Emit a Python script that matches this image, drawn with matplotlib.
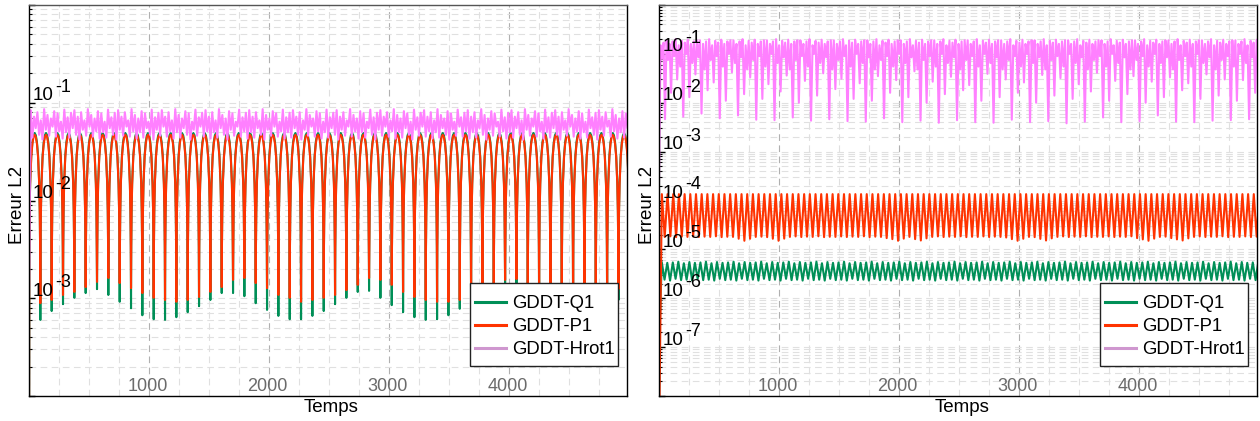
import numpy as np
import matplotlib
matplotlib.use("Agg")
import matplotlib.pyplot as plt
import matplotlib.transforms as mtransforms
from matplotlib.lines import Line2D
from matplotlib.patches import Rectangle
from matplotlib.ticker import LogLocator, MultipleLocator, FixedLocator, NullFormatter

plt.rcParams['font.family'] = ['Liberation Sans', 'DejaVu Sans']

# ---------------- data ----------------
SERIES = ["GDDT-Q1", "GDDT-P1", "GDDT-Hrot1"]
LINE_COLORS = ["#008f57", "#ff3300", "#ff80ff"]
LEGEND_COLORS = ["#008f57", "#ff3300", "#cf97cf"]
X_LABEL = "Temps"
Y_LABEL = "Erreur L2"
T_MAX = 4980
X_TICKS = [1000, 2000, 3000, 4000]
L_DECADES = [-1, -2, -3]
R_DECADES = [-1, -2, -3, -4, -5, -6, -7]
L_YLIM = (1e-4, 1.0)
R_YLIM = (1e-8, 1.0)

# left panel : Q1 / P1 arches (one trough every period)
L_PERIOD = 94.4
L_Q1_START = 1e-5
L_P1_START = 1e-5
L_Q1_PEAK = 0.049
L_P1_PEAK = 0.047
ARCH_PHASE = [0.02, 0.05, 0.1, 0.2, 0.3, 0.4, 0.5]
ARCH_REL = [0.07, 0.16, 0.31, 0.59, 0.81, 0.95, 1.0]
L_Q1_TROUGHS = [6.0e-4, 7.4e-4, 8.7e-4, 1.01e-3, 1.13e-3, 1.24e-3, 1.08e-3, 9.2e-4,
                7.9e-4, 6.7e-4, 6.1e-4, 6.0e-4, 6.4e-4, 7.2e-4, 8.3e-4, 9.6e-4,
                1.13e-3, 1.13e-3, 1.05e-3, 8.9e-4, 7.6e-4, 6.6e-4, 6.1e-4, 6.1e-4,
                6.6e-4, 7.4e-4, 8.7e-4, 1.01e-3, 1.16e-3, 1.19e-3, 1.01e-3, 8.5e-4,
                7.2e-4, 6.4e-4, 6.0e-4, 6.1e-4, 6.7e-4, 7.8e-4, 8.5e-4, 9.8e-4,
                1.10e-3, 1.16e-3, 1.03e-3, 8.7e-4, 7.4e-4, 6.6e-4, 6.1e-4, 6.1e-4,
                6.6e-4, 7.4e-4, 8.5e-4, 9.6e-4]
L_P1_TROUGHS = [8.9e-4, 9.6e-4, 1.08e-3, 1.16e-3, 1.30e-3, 1.47e-3, 1.61e-3, 1.43e-3,
                1.27e-3, 1.13e-3, 1.01e-3, 9.6e-4, 9.2e-4, 9.6e-4, 1.03e-3, 1.16e-3,
                1.30e-3, 1.54e-3, 1.61e-3, 1.43e-3, 1.27e-3, 1.08e-3, 1.01e-3, 9.2e-4,
                9.6e-4, 1.01e-3, 1.08e-3, 1.21e-3, 1.37e-3, 1.61e-3, 1.54e-3, 1.37e-3,
                1.16e-3, 1.03e-3, 9.6e-4, 9.2e-4, 9.2e-4, 9.6e-4, 1.03e-3, 1.16e-3,
                1.30e-3, 1.54e-3, 1.57e-3, 1.40e-3, 1.21e-3, 1.08e-3, 9.8e-4, 9.2e-4,
                9.4e-4, 1.01e-3, 1.10e-3, 1.24e-3]
# left panel : Hrot1 noisy band
L_H_START = 1.1e-3
L_H_STEP = 14
L_H_HIGH = [0.084, 0.072, 0.080, 0.066, 0.086, 0.075, 0.069, 0.082, 0.078, 0.064, 0.085, 0.071, 0.079]
L_H_LOW = [0.050, 0.044, 0.055, 0.047, 0.042, 0.053, 0.046, 0.057, 0.045, 0.051, 0.043]

# right panel : P1
R_P1_PERIOD = 47.4
R_P1_START = 1e-9
R_P1_PEAK = 1.35e-4
R_P1_TROUGHS = [1.8e-5, 1.85e-5, 1.78e-5, 1.82e-5, 1.8e-5, 1.84e-5, 1.79e-5, 1.82e-5, 1.8e-5, 1.85e-5, 1.78e-5, 1.81e-5, 1.8e-5, 1.65e-5, 1.5e-5,
                1.65e-5, 1.8e-5, 1.82e-5, 1.78e-5, 1.65e-5, 1.5e-5, 1.66e-5, 1.8e-5, 1.84e-5, 1.79e-5, 1.82e-5, 1.8e-5, 1.85e-5, 1.78e-5, 1.81e-5,
                1.8e-5, 1.84e-5, 1.79e-5, 1.82e-5, 1.8e-5, 1.85e-5, 1.78e-5, 1.82e-5, 1.8e-5, 1.7e-5, 1.62e-5, 1.5e-5, 1.66e-5, 1.8e-5, 1.62e-5,
                1.52e-5, 1.68e-5, 1.8e-5, 1.84e-5, 1.79e-5, 1.82e-5, 1.8e-5, 1.85e-5, 1.78e-5, 1.81e-5, 1.8e-5, 1.84e-5, 1.79e-5, 1.82e-5, 1.8e-5,
                1.75e-5, 1.62e-5, 1.5e-5, 1.65e-5, 1.8e-5, 1.78e-5, 1.64e-5, 1.52e-5, 1.68e-5, 1.8e-5, 1.84e-5, 1.79e-5, 1.82e-5, 1.8e-5, 1.85e-5,
                1.78e-5, 1.81e-5, 1.8e-5, 1.84e-5, 1.79e-5, 1.82e-5, 1.8e-5, 1.85e-5, 1.7e-5, 1.6e-5, 1.5e-5, 1.66e-5, 1.8e-5, 1.82e-5, 1.7e-5,
                1.6e-5, 1.52e-5, 1.68e-5, 1.8e-5, 1.84e-5, 1.79e-5, 1.82e-5, 1.8e-5, 1.85e-5, 1.78e-5, 1.81e-5, 1.8e-5, 1.84e-5, 1.79e-5, 1.82e-5]
# right panel : Q1
R_Q1_PERIOD = 46.0
R_Q1_CYCLES = 109
R_Q1_START = 1e-7
R_Q1_PEAKS = [5.5e-6, 5.3e-6, 5.4e-6, 5.6e-6, 5.2e-6]
R_Q1_TROUGHS = [2.4e-6, 2.3e-6, 2.5e-6, 2.35e-6]
# right panel : Hrot1 (beats with deep / medium / shallow spikes)
R_H_LEAD_T = [0, 13, 25, 38]
R_H_LEAD_V = [2.5e-4, 0.15, 0.08, 0.17]
R_H_FIRST = 50
R_H_BEAT = 152
R_H_DEEP = [4.6e-3, 5.2e-3, 6.0e-3, 4.8e-3, 5.5e-3, 4.5e-3, 4.4e-3, 5.0e-3, 4.3e-3, 4.6e-3, 4.2e-3,
            4.1e-3, 4.8e-3, 4.0e-3, 4.3e-3, 3.9e-3, 4.4e-3, 4.0e-3, 3.9e-3, 4.5e-3, 4.0e-3, 4.2e-3,
            3.8e-3, 4.1e-3, 5.0e-3, 4.0e-3, 4.2e-3, 5.5e-3, 4.1e-3, 4.0e-3, 4.3e-3, 4.4e-3, 4.6e-3]
R_H_MED = [0.016, 0.013, 0.018, 0.011, 0.015, 0.012, 0.017, 0.010, 0.014, 0.019, 0.012,
           0.011, 0.016, 0.013, 0.010, 0.015, 0.018, 0.011, 0.013, 0.016, 0.010, 0.014,
           0.012, 0.017, 0.011, 0.015, 0.010, 0.013, 0.018, 0.012, 0.014, 0.011, 0.016]
R_H_SHALLOW = [0.030, 0.038, 0.026, 0.042, 0.033, 0.024, 0.036, 0.028, 0.040, 0.031, 0.025,
               0.035, 0.029, 0.044, 0.027, 0.034, 0.023, 0.039, 0.030, 0.026, 0.037, 0.032,
               0.024, 0.041, 0.028, 0.035, 0.027, 0.033, 0.025, 0.038, 0.030, 0.029, 0.036]
R_H_HIGH = [0.19, 0.16, 0.18, 0.20, 0.15, 0.185, 0.17, 0.195, 0.16, 0.18, 0.19]
R_H_LOW = [0.075, 0.09, 0.055, 0.10, 0.065, 0.085, 0.048]


# ---------------- series builders ----------------
def arch_series(period, peak, troughs, start):
    t, v = [0.0], [start]
    for k in range(len(troughs) + 1):
        t0 = k * period
        if k >= 1:
            t.append(t0)
            v.append(troughs[k - 1])
        for ph, rel in zip(ARCH_PHASE, ARCH_REL):
            t.append(t0 + ph * period)
            v.append(peak * rel)
        for ph, rel in zip(ARCH_PHASE[-2::-1], ARCH_REL[-2::-1]):
            t.append(t0 + (1 - ph) * period)
            v.append(peak * rel)
    return np.array(t), np.array(v)


def zigzag(period, peaks, troughs, n, start):
    t, v = [0.0], [start]
    for c in range(n + 1):
        t.append((c + 0.5) * period)
        v.append(peaks[c % len(peaks)])
        if c < n:
            t.append((c + 1) * period)
            v.append(troughs[c % len(troughs)])
    return np.array(t), np.array(v)


def band(step, highs, lows, start, tmax):
    t, v = [0.0], [start]
    i = 1
    while (i - 1) * step <= tmax + step:
        t.append(i * step)
        j = i // 2
        v.append(highs[j % len(highs)] if i % 2 else lows[j % len(lows)])
        i += 1
    return np.array(t), np.array(v)


def beats():
    t, v = list(R_H_LEAD_T), list(R_H_LEAD_V)
    sub = R_H_BEAT / 12.0
    hi_i, lo_i = 0, 0
    for k in range(len(R_H_DEEP)):
        t0 = R_H_FIRST + k * R_H_BEAT
        mins = {0: R_H_DEEP[k], 4: R_H_MED[k], 8: R_H_SHALLOW[k]}
        for s in range(12):
            t.append(t0 + s * sub)
            if s in mins:
                v.append(mins[s])
            elif s % 2 == 1:
                v.append(R_H_HIGH[hi_i % len(R_H_HIGH)]); hi_i += 1
            else:
                v.append(R_H_LOW[lo_i % len(R_H_LOW)]); lo_i += 1
    return np.array(t), np.array(v)


# ---------------- figure ----------------
W, H = 1260, 421
fig = plt.figure(figsize=(W / 100, H / 100), dpi=100)
AX_L = [29 / W, (H - 396) / H, 598 / W, 391 / H]
AX_R = [659 / W, (H - 396) / H, 598 / W, 391 / H]
axL = fig.add_axes(AX_L)
axR = fig.add_axes(AX_R)


def style(ax, ylim, decades):
    ax.set_yscale('log')
    ax.set_xlim(0, T_MAX)
    ax.set_ylim(*ylim)
    ax.xaxis.set_major_locator(FixedLocator([0] + X_TICKS))
    ax.xaxis.set_minor_locator(MultipleLocator(250))
    ax.yaxis.set_major_locator(LogLocator(base=10, numticks=30))
    ax.yaxis.set_minor_locator(LogLocator(base=10, subs=np.arange(2, 10), numticks=30))
    ax.yaxis.set_minor_formatter(NullFormatter())
    ax.set_axisbelow(True)
    ax.grid(axis='x', which='major', color='#b0b0b0', ls=(0, (6, 4)), lw=0.8)
    ax.grid(axis='x', which='minor', color='#e0e0e0', ls=(0, (6, 4)), lw=0.8)
    ax.grid(axis='y', which='both', color='#e0e0e0', ls=(0, (6, 4)), lw=0.8)
    ax.tick_params(axis='x', which='both', length=0, labelbottom=False)
    ax.tick_params(axis='y', which='major', direction='in', length=4, width=1, labelleft=False)
    ax.tick_params(axis='y', which='minor', direction='in', length=2.5, width=0.8)
    for sp in ax.spines.values():
        sp.set_linewidth(1.0)
        sp.set_color('black')
    ax.spines['top'].set_color('#555555')
    blend_y = mtransforms.blended_transform_factory(ax.transAxes, ax.transData)
    for e in decades:
        ax.annotate("10", xy=(0, 10.0 ** e), xycoords=blend_y, xytext=(2.8, 1.8),
                    textcoords='offset points', ha='left', va='baseline', fontsize=13.5, color='black')
        ax.annotate("-%d" % (-e), xy=(0, 10.0 ** e), xycoords=blend_y, xytext=(19.0, 8.0),
                    textcoords='offset points', ha='left', va='baseline', fontsize=13, color='black')
    blend_x = mtransforms.blended_transform_factory(ax.transData, ax.transAxes)
    for xt in X_TICKS:
        ax.annotate(str(xt), xy=(xt, 0), xycoords=blend_x, xytext=(-1.2, 3.4),
                    textcoords='offset points', ha='center', va='baseline', fontsize=13, color='#6b6b6b')
    # legend box (pixel geometry of the reference, in axes fraction)
    box = Rectangle((441 / 598, 30 / 391), 148 / 598, 83 / 391, transform=ax.transAxes,
                    facecolor='white', edgecolor='#222222', lw=1.0, zorder=4)
    ax.add_patch(box)
    handles = [Line2D([], [], color=c, lw=2.2) for c in LEGEND_COLORS]
    leg = ax.legend(handles, SERIES, loc='upper left', bbox_to_anchor=(446 / 598, 101 / 391),
                    frameon=False, fontsize=13.3, handlelength=1.7, handletextpad=0.33,
                    borderpad=0, labelspacing=0.33, borderaxespad=0)
    leg.set_zorder(5)


# left
tq, vq = arch_series(L_PERIOD, L_Q1_PEAK, L_Q1_TROUGHS, L_Q1_START)
tp, vp = arch_series(L_PERIOD, L_P1_PEAK, L_P1_TROUGHS, L_P1_START)
th, vh = band(L_H_STEP, L_H_HIGH, L_H_LOW, L_H_START, T_MAX)
axL.plot(tq, vq, color=LINE_COLORS[0], lw=1.5)
axL.plot(tp, vp, color=LINE_COLORS[1], lw=1.5)
axL.plot(th, vh, color=LINE_COLORS[2], lw=1.5)
style(axL, L_YLIM, L_DECADES)

# right
tq, vq = zigzag(R_Q1_PERIOD, R_Q1_PEAKS, R_Q1_TROUGHS, R_Q1_CYCLES, R_Q1_START)
tp, vp = zigzag(R_P1_PERIOD, [R_P1_PEAK], R_P1_TROUGHS, len(R_P1_TROUGHS), R_P1_START)
th, vh = beats()
axR.plot(tq, vq, color=LINE_COLORS[0], lw=1.5)
axR.plot(tp, vp, color=LINE_COLORS[1], lw=1.5)
axR.plot(th, vh, color=LINE_COLORS[2], lw=1.5)
style(axR, R_YLIM, R_DECADES)

# axis labels
for ax_pos, cx in ((AX_L, 331), (AX_R, 962)):
    fig.text(cx / W, (H - 412) / H, X_LABEL, ha='center', va='baseline', fontsize=13.5)
    fig.text((ax_pos[0] * W - 11) / W, ax_pos[1] + ax_pos[3] / 2 - 4 / H, Y_LABEL, rotation=90,
             ha='center', va='center', fontsize=13.5)

fig.savefig("out.png", dpi=100)
